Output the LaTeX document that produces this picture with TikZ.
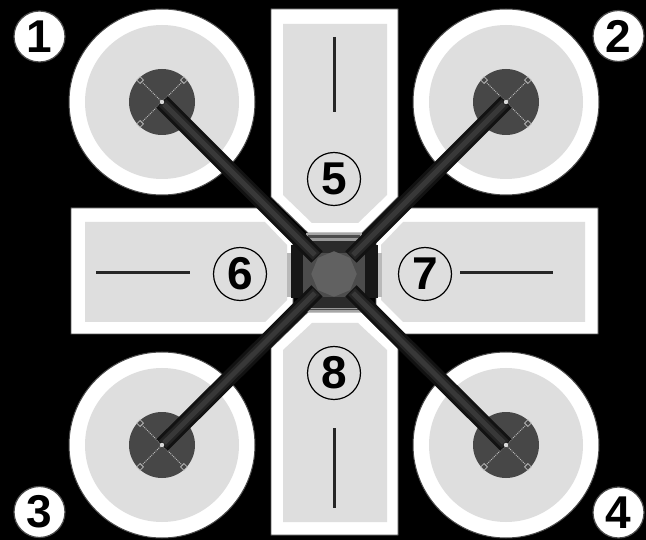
\documentclass[tikz,border=0pt]{standalone}
\usepackage{fontspec}
\setmainfont{Liberation Sans}
\usetikzlibrary{calc,shapes.geometric}
\definecolor{pan}{gray}{0.87}
\definecolor{motor}{gray}{0.28}
\definecolor{hubc}{gray}{0.38}
\definecolor{midgr}{gray}{0.30}
\definecolor{darkgr}{gray}{0.17}
\definecolor{blackgr}{gray}{0.09}
\definecolor{armdark}{gray}{0.07}
\definecolor{armmid}{gray}{0.14}
\definecolor{armlite}{gray}{0.22}
\tikzset{
  x=1pt,y=-1pt,
  outerpanel/.style={fill=white,draw=gray!70!black,line width=0.8pt},
  innerpanel/.style={fill=pan},
  slot/.style={line width=3pt,draw=black!85},
  armbase/.style={line width=16pt,draw=armdark},
  armcore/.style={line width=10pt,draw=armmid},
  armline/.style={line width=5pt,draw=armlite},
  numfont/.style={font=\bfseries\fontsize{46}{46}\selectfont},
  panelnum/.style={circle,draw=black,line width=1.2pt,fill=pan,minimum size=53pt,inner sep=0pt,numfont},
  cornernum/.style={circle,draw=gray!60!black,line width=1.2pt,fill=white,minimum size=51pt,inner sep=0pt,numfont},
  chain/.style={draw=gray!55,line width=1pt,densely dotted},
  lug/.style={diamond,draw=gray!55,line width=0.8pt,inner sep=0pt,minimum size=7pt,fill=motor},
  hubnode/.style={regular polygon,regular polygon sides=8,fill=hubc,minimum size=45.5pt,inner sep=0pt,shape border rotate=22.5},
}
\newcommand{\rotorunit}[1]{%
  \fill[white,draw=black!70!white,line width=1pt] (#1) circle[radius=93];
  \fill[pan] (#1) circle[radius=77];
}
\newcommand{\motorunit}[1]{%
  \fill[motor] (#1) circle[radius=33];
  \foreach \a in {45,135,225,315}{
    \draw[chain] (#1) -- ($(#1)+(\a:31)$);
    \node[lug] at ($(#1)+(\a:31)$) {};
  }
}
\begin{document}
\begin{tikzpicture}
\useasboundingbox (0,0) rectangle (646,540);
\fill[black] (0,0) rectangle (646,540);
\coordinate (hub) at (334,274);
\coordinate (r1) at (162,102);
\coordinate (r2) at (506,102);
\coordinate (r3) at (162,445);
\coordinate (r4) at (506,445);
\rotorunit{r1} \rotorunit{r2} \rotorunit{r3} \rotorunit{r4}
% panels
\draw[outerpanel] (271,9) -- (398,9) -- (398,197) -- (362,233) -- (308,233) -- (271,197) -- cycle;
\fill[innerpanel] (283,24) -- (387,24) -- (387,195) -- (358,223) -- (312,223) -- (283,195) -- cycle;
\draw[outerpanel] (271,535) -- (398,535) -- (398,348) -- (362,312) -- (308,312) -- (271,348) -- cycle;
\fill[innerpanel] (283,522) -- (387,522) -- (387,350) -- (358,323) -- (312,323) -- (283,350) -- cycle;
\draw[outerpanel] (71,208) -- (270,208) -- (293,233) -- (293,312) -- (270,334) -- (71,334) -- cycle;
\fill[innerpanel] (85,222) -- (265,222) -- (287,245) -- (287,300) -- (265,322) -- (85,322) -- cycle;
\draw[outerpanel] (598,208) -- (398,208) -- (376,233) -- (376,312) -- (398,334) -- (598,334) -- cycle;
\fill[innerpanel] (585,222) -- (403,222) -- (381,245) -- (381,300) -- (403,322) -- (585,322) -- cycle;
% slots
\coordinate (s1a) at (334,37); \coordinate (s1b) at (334,112);
\coordinate (s2a) at (334,428); \coordinate (s2b) at (334,508);
\coordinate (s3a) at (96,273); \coordinate (s3b) at (190,273);
\coordinate (s4a) at (460,273); \coordinate (s4b) at (553,273);
\draw[slot] (s1a) -- (s1b);
\draw[slot] (s2a) -- (s2b);
\draw[slot] (s3a) -- (s3b);
\draw[slot] (s4a) -- (s4b);
% centre module
\fill[gray!55] (287,253) rectangle (382,297);
\fill[gray!70] (306,233) rectangle (362,312);
\fill[midgr] (308,235) rectangle (360,310);
\fill[gray!80] (310,238) rectangle (358,309);
\fill[blackgr] (291,245) rectangle (378,298);
\fill[darkgr] (303,241) rectangle (365,308);
\fill[midgr] (303,253) rectangle (365,297);
% motors
\motorunit{r1} \motorunit{r2} \motorunit{r3} \motorunit{r4}
% arms
\foreach \r in {r1,r2,r3,r4}{
  \draw[armbase] ($(hub)!24pt!(\r)$) -- (\r);
  \draw[armcore] ($(hub)!25pt!(\r)$) -- ($(\r)!1pt!(hub)$);
  \draw[armline] ($(hub)!27pt!(\r)$) -- ($(\r)!3pt!(hub)$);
  \fill[gray!30] (\r) circle[radius=2.2];
}
\node[hubnode] (hubbody) at (hub) {};
% numbers
\node[cornernum] (n1) at (39.5,36.5) {1};
\node[cornernum] (n2) at (618.5,36) {2};
\node[cornernum] (n3) at (39.5,512) {3};
\node[cornernum] (n4) at (618.5,512.5) {4};
\node[panelnum] (n5) at (334,179) {5};
\node[panelnum] (n6) at (240,274) {6};
\node[panelnum] (n7) at (425,274) {7};
\node[panelnum] (n8) at (334,373) {8};
\end{tikzpicture}
\end{document}
